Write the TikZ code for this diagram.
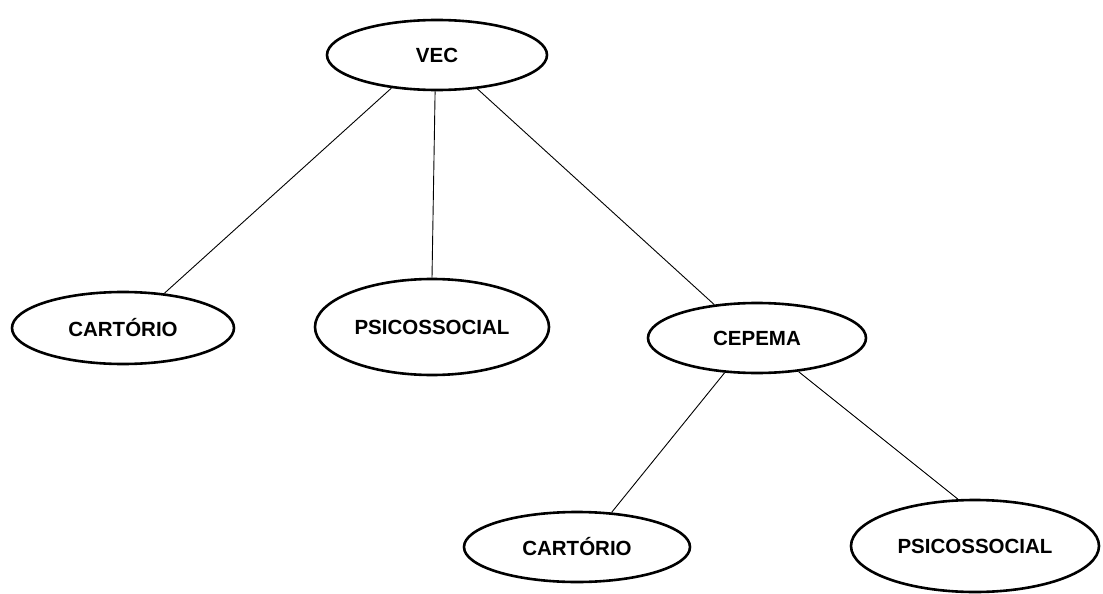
\documentclass[tikz,border=0pt]{standalone}
\usepackage{fontspec}
\setmainfont{Liberation Sans}
\usetikzlibrary{shapes.geometric}

\begin{document}
\begin{tikzpicture}[x=1pt,y=-1pt,
    unit/.style={ellipse, draw, line width=2.6pt, inner sep=0pt,
      font=\fontsize{20.5}{24}\selectfont\bfseries},
    link/.style={line width=0.9pt}]
  \useasboundingbox (0,0) rectangle (1103,594);

  \node[unit, minimum width=220pt, minimum height=70pt] (vec) at (437,55) {VEC};
  \node[unit, minimum width=222pt, minimum height=72pt] (cart1) at (123,328) {CARTÓRIO};
  \node[unit, minimum width=234pt, minimum height=96pt] (psico1) at (432,327) {PSICOSSOCIAL};
  \node[unit, minimum width=218pt, minimum height=70pt] (cepema) at (757,338) {CEPEMA};
  \node[unit, minimum width=226pt, minimum height=70pt] (cart2) at (577,547) {CARTÓRIO};
  \node[unit, minimum width=248pt, minimum height=92pt] (psico2) at (975,546) {PSICOSSOCIAL};

  \draw[link] (vec.216) -- (cart1.40);
  \draw[link] (vec.267) -- (psico1.north);
  \draw[link] (vec.320) -- (cepema.142);
  \draw[link] (cepema.227) -- (cart2.45);
  \draw[link] (cepema.321) -- (psico2.110);
\end{tikzpicture}
\end{document}
